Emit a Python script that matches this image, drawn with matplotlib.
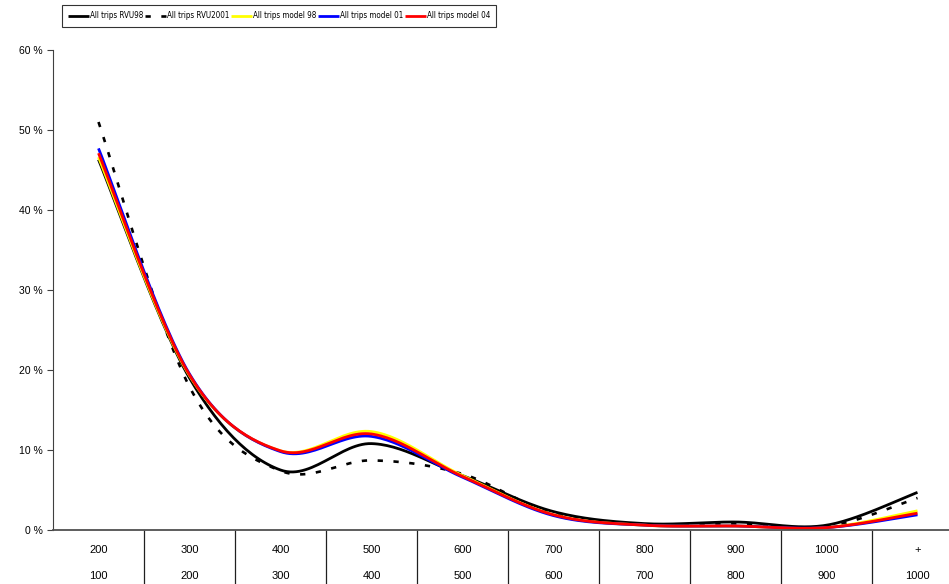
import numpy as np
import matplotlib
matplotlib.use('Agg')
import matplotlib.pyplot as plt
from matplotlib.ticker import FuncFormatter
from matplotlib import font_manager

plt.rcParams['font.family'] = ['Liberation Sans', 'DejaVu Sans']

cats_top = ['200', '300', '400', '500', '600', '700', '800', '900', '1000', '+']
cats_bottom = ['100', '200', '300', '400', '500', '600', '700', '800', '900', '1000']

# shares in percent
rvu98 = [46.3, 19.0, 7.5, 10.8, 6.8, 2.3, 0.8, 1.0, 0.6, 4.7]
rvu2001 = [51.0, 17.9, 7.4, 8.7, 7.0, 2.0, 0.7, 0.8, 0.4, 4.0]
model98 = [46.6, 19.3, 9.9, 12.3, 6.8, 1.9, 0.6, 0.5, 0.3, 2.4]
model01 = [47.7, 19.5, 9.8, 11.7, 6.6, 1.8, 0.6, 0.5, 0.3, 1.9]
model04 = [47.1, 19.4, 9.9, 12.0, 6.7, 1.9, 0.6, 0.5, 0.3, 2.1]


def smooth(y, n=30):
    # Excel-like smoothed line: cubic bezier through the points
    x = np.arange(len(y), dtype=float)
    y = np.asarray(y, dtype=float)
    pts = np.column_stack([x, y])
    out = []
    t = np.linspace(0, 1, n)[:, None]
    for i in range(len(pts) - 1):
        p0 = pts[max(i - 1, 0)]
        p1 = pts[i]
        p2 = pts[i + 1]
        p3 = pts[min(i + 2, len(pts) - 1)]
        c1 = p1 + (p2 - p0) / 6
        c2 = p2 - (p3 - p1) / 6
        seg = ((1 - t) ** 3) * p1 + 3 * ((1 - t) ** 2) * t * c1 + 3 * (1 - t) * t ** 2 * c2 + t ** 3 * p2
        out.append(seg if i == 0 else seg[1:])
    out = np.vstack(out)
    return out[:, 0], out[:, 1]


# legend text is narrow in the original, use a condensed face if one is installed
condensed = [f.fname for f in font_manager.fontManager.ttflist
             if ('condensed' in f.fname.lower() or 'narrow' in f.fname.lower())
             and 'bold' not in f.fname.lower() and 'oblique' not in f.fname.lower()
             and 'italic' not in f.fname.lower() and 'sans' in f.fname.lower()
             and 'mono' not in f.fname.lower()]
if condensed:
    leg_prop = font_manager.FontProperties(fname=sorted(condensed)[0], size=5.8)
else:
    leg_prop = font_manager.FontProperties(family='Liberation Sans', size=5.3)

fig = plt.figure(figsize=(9.49, 5.84), dpi=100)
ax = fig.add_axes([53 / 949, 54 / 584, 910 / 949, 480 / 584])

series = [
    (rvu98, 'All trips RVU98', dict(color='black', lw=2.0)),
    (rvu2001, 'All trips RVU2001', dict(color='black', lw=1.9, linestyle=(0, (2, 4)))),
    (model98, 'All trips model 98', dict(color='#ffff00', lw=2.0)),
    (model01, 'All trips model 01', dict(color='#0000ff', lw=2.0)),
    (model04, 'All trips model 04', dict(color='#ff0000', lw=2.0)),
]
for vals, label, style in series:
    sx, sy = smooth(vals)
    ax.plot(sx, sy, label=label, solid_capstyle='butt', **style)

ax.set_xlim(-0.5, len(cats_top) - 0.5)
ax.set_ylim(0, 60)
ax.set_yticks(np.arange(0, 61, 10))
ax.yaxis.set_major_formatter(FuncFormatter(lambda v, p: f'{int(v)} %'))
ax.tick_params(axis='y', length=4.5, width=0.8, pad=3, labelsize=7.5, color='#404040')

ax.spines['top'].set_visible(False)
ax.spines['right'].set_visible(False)
ax.spines['left'].set_color('#404040')
ax.spines['bottom'].set_color('#505050')
ax.spines['bottom'].set_linewidth(1.3)

# category axis: separators between categories and two rows of labels
ax.set_xticks([])
ax.set_xticks(np.arange(0.5, len(cats_top) - 0.5, 1), minor=True)
ax.tick_params(axis='x', which='minor', length=40, width=0.9, color='#202020', direction='out')
ax.set_xticklabels([], minor=True)
xtrans = ax.get_xaxis_transform()
for i, (top, bottom) in enumerate(zip(cats_top, cats_bottom)):
    ax.text(i, -20 / 480, top, transform=xtrans, ha='center', va='center', fontsize=8)
    ax.text(i, -46 / 480, bottom, transform=xtrans, ha='center', va='center', fontsize=8)

leg = fig.legend(loc='center', bbox_to_anchor=(279 / 949, 1 - 16 / 584), ncol=5,
                 prop=leg_prop, frameon=True, fancybox=False, edgecolor='black',
                 handlelength=2.6, handletextpad=0.15, columnspacing=0.2,
                 borderpad=0.75, borderaxespad=0)
leg.get_frame().set_linewidth(0.8)

fig.savefig('out.png', dpi=100)
